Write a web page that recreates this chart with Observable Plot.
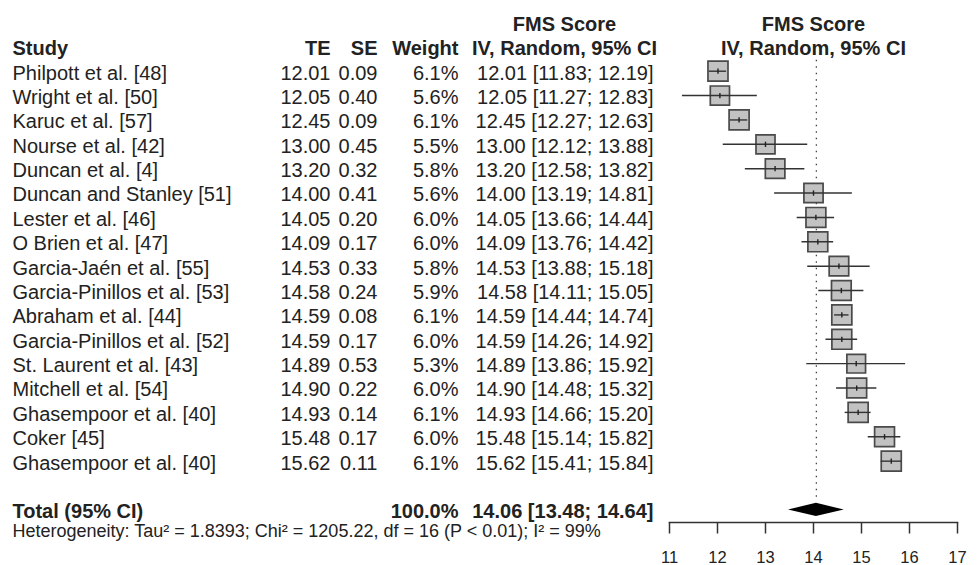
<!DOCTYPE html>
<html>
<head>
<meta charset="utf-8">
<script src="https://cdn.jsdelivr.net/npm/d3@7"></script>
<script src="https://cdn.jsdelivr.net/npm/@observablehq/plot@0.6"></script>
<style>
  html, body { margin: 0; padding: 0; background: #fff; }
  #chart svg { display: block; }
</style>
</head>
<body>
<div id="chart"></div>
<script>
// ---- data ----
const studies = [
  "Philpott et al. [48]", "Wright et al. [50]", "Karuc et al. [57]", "Nourse et al. [42]",
  "Duncan et al. [4]", "Duncan and Stanley [51]", "Lester et al. [46]", "O Brien et al. [47]",
  "Garcia-Jaén et al. [55]", "Garcia-Pinillos et al. [53]", "Abraham et al. [44]",
  "Garcia-Pinillos et al. [52]", "St. Laurent et al. [43]", "Mitchell et al. [54]",
  "Ghasempoor et al. [40]", "Coker [45]", "Ghasempoor et al. [40]"
];
const te     = [12.01, 12.05, 12.45, 13.00, 13.20, 14.00, 14.05, 14.09, 14.53, 14.58, 14.59, 14.59, 14.89, 14.90, 14.93, 15.48, 15.62];
const se     = [0.09, 0.40, 0.09, 0.45, 0.32, 0.41, 0.20, 0.17, 0.33, 0.24, 0.08, 0.17, 0.53, 0.22, 0.14, 0.17, 0.11];
const weight = [6.1, 5.6, 6.1, 5.5, 5.8, 5.6, 6.0, 6.0, 5.8, 5.9, 6.1, 6.0, 5.3, 6.0, 6.1, 6.0, 6.1];
const lower  = [11.83, 11.27, 12.27, 12.12, 12.58, 13.19, 13.66, 13.76, 13.88, 14.11, 14.44, 14.26, 13.86, 14.48, 14.66, 15.14, 15.41];
const upper  = [12.19, 12.83, 12.63, 13.88, 13.82, 14.81, 14.44, 14.42, 15.18, 15.05, 14.74, 14.92, 15.92, 15.32, 15.20, 15.82, 15.84];

const totalLabel = ["Total (95% CI)"];
const totalValues = [14.06, 13.48, 14.64]; // estimate, lower, upper
const totalWeight = [100.0];
const hetLabels = ["Tau²", "Chi²", "df", "P", "I²"];
const hetValues = ["1.8393", "1205.22", "16", "< 0.01", "99%"];
const columnHeaders = ["Study", "TE", "SE", "Weight"];
const effectHeader = ["FMS Score", "IV, Random, 95% CI"];
const xTicks = [11, 12, 13, 14, 15, 16, 17];

// ---- derived table ----
const f2 = d3.format(".2f");
const rows = studies.map((s, i) => ({
  i, study: s, te: te[i], se: se[i], w: weight[i], lo: lower[i], hi: upper[i],
  teTxt: f2(te[i]), seTxt: f2(se[i]), wTxt: weight[i].toFixed(1) + "%",
  ci: `${f2(te[i])} [${f2(lower[i])}; ${f2(upper[i])}]`
}));
const totalRow = studies.length + 1;
const [tTE, tLo, tHi] = totalValues;
const total = [{
  i: totalRow, study: totalLabel[0], wTxt: totalWeight[0].toFixed(1) + "%",
  ci: `${f2(tTE)} [${f2(tLo)}; ${f2(tHi)}]`
}];
const hetText = "Heterogeneity: " +
  `${hetLabels[0]} = ${hetValues[0]}; ${hetLabels[1]} = ${hetValues[1]}, ` +
  `${hetLabels[2]} = ${hetValues[2]} (${hetLabels[3]} ${hetValues[3]}); ${hetLabels[4]} = ${hetValues[4]}`;

const diamondH = 0.27;
const diamond = [
  {x: tLo, y1: totalRow, y2: totalRow},
  {x: tTE, y1: totalRow - diamondH, y2: totalRow + diamondH},
  {x: tHi, y1: totalRow, y2: totalRow}
];

// ---- layout (column offsets from the forest panel's left edge) ----
const ML = 669;
const col = {study: 12 - ML, te: 330 - ML, se: 377 - ML, w: 458 - ML, ci: 653 - ML, ciCenter: 564 - ML};
const ink = "#222";
const textDy = 2;

const vbar = {draw(ctx, size) { const h = Math.sqrt(size) / 2; ctx.moveTo(0, -h); ctx.lineTo(0, h); }};

const txt = (data, opts) => Plot.text(data, {frameAnchor: "left", dy: textDy, fontSize: 20, fill: ink, ...opts});

const chart = Plot.plot({
  width: 977,
  height: 565,
  marginLeft: ML,
  marginRight: 20,
  marginTop: 0,
  marginBottom: 43,
  style: {fontFamily: "'Liberation Sans', Arial, sans-serif", fontSize: "20px", background: "#fff", color: ink},
  x: {domain: [11, 17]},
  y: {domain: [0, totalRow], range: [70.7, 509.4], axis: null},
  r: {type: "sqrt", domain: [0, 6.1], range: [0, 11.3]},
  marks: [
    // reference line at pooled estimate
    Plot.ruleX([tTE], {y1: -0.45, y2: totalRow - 0.45, stroke: "#444", strokeWidth: 1.3, strokeDasharray: "1.5,5"}),
    // study squares
    Plot.dot(rows, {x: "te", y: "i", r: "w", symbol: "square", fill: "#c2c2c2", stroke: "#4a4a4a", strokeWidth: 1.7}),
    // confidence intervals
    Plot.ruleY(rows, {y: "i", x1: "lo", x2: "hi", stroke: "#333", strokeWidth: 1.4}),
    // point estimate tick
    Plot.dot(rows, {x: "te", y: "i", r: 3, symbol: vbar, fill: "none", stroke: "#222", strokeWidth: 1.4}),
    // pooled diamond
    Plot.areaY(diamond, {x: "x", y1: "y1", y2: "y2", fill: "#000"}),
    // axis
    Plot.frame({anchor: "bottom", stroke: "#333", strokeWidth: 1.5}),
    Plot.axisX({ticks: xTicks, tickFormat: "d", tickSize: 11.5, tickPadding: 17.5, fontSize: 16.5, stroke: "#333", strokeWidth: 1.5, fill: ink}),
    // headers
    txt([effectHeader[0]], {y: -2, text: d => d, textAnchor: "middle", dx: col.ciCenter, fontWeight: "bold"}),
    txt([effectHeader[1]], {y: -1, text: d => d, textAnchor: "middle", dx: col.ciCenter, fontWeight: "bold"}),
    txt([effectHeader[0]], {y: -2, text: d => d, frameAnchor: "middle", textAnchor: "middle", dx: 0, fontWeight: "bold"}),
    txt([effectHeader[1]], {y: -1, text: d => d, frameAnchor: "middle", textAnchor: "middle", dx: 0, fontWeight: "bold"}),
    txt([columnHeaders[0]], {y: -1, text: d => d, textAnchor: "start", dx: col.study, fontWeight: "bold"}),
    txt([columnHeaders[1]], {y: -1, text: d => d, textAnchor: "end", dx: col.te, fontWeight: "bold"}),
    txt([columnHeaders[2]], {y: -1, text: d => d, textAnchor: "end", dx: col.se, fontWeight: "bold"}),
    txt([columnHeaders[3]], {y: -1, text: d => d, textAnchor: "end", dx: col.w, fontWeight: "bold"}),
    // study rows
    txt(rows, {y: "i", text: "study", textAnchor: "start", dx: col.study}),
    txt(rows, {y: "i", text: "teTxt", textAnchor: "end", dx: col.te}),
    txt(rows, {y: "i", text: "seTxt", textAnchor: "end", dx: col.se}),
    txt(rows, {y: "i", text: "wTxt", textAnchor: "end", dx: col.w}),
    txt(rows, {y: "i", text: "ci", textAnchor: "end", dx: col.ci}),
    // total row
    txt(total, {y: "i", text: "study", textAnchor: "start", dx: col.study, fontWeight: "bold"}),
    txt(total, {y: "i", text: "wTxt", textAnchor: "end", dx: col.w, fontWeight: "bold"}),
    txt(total, {y: "i", text: "ci", textAnchor: "end", dx: col.ci, fontWeight: "bold"}),
    // heterogeneity
    txt([hetText], {y: totalRow, text: d => d, textAnchor: "start", dx: col.study, dy: 21.5, fontSize: 18})
  ]
});
document.getElementById("chart").appendChild(chart);
</script>
</body>
</html>
